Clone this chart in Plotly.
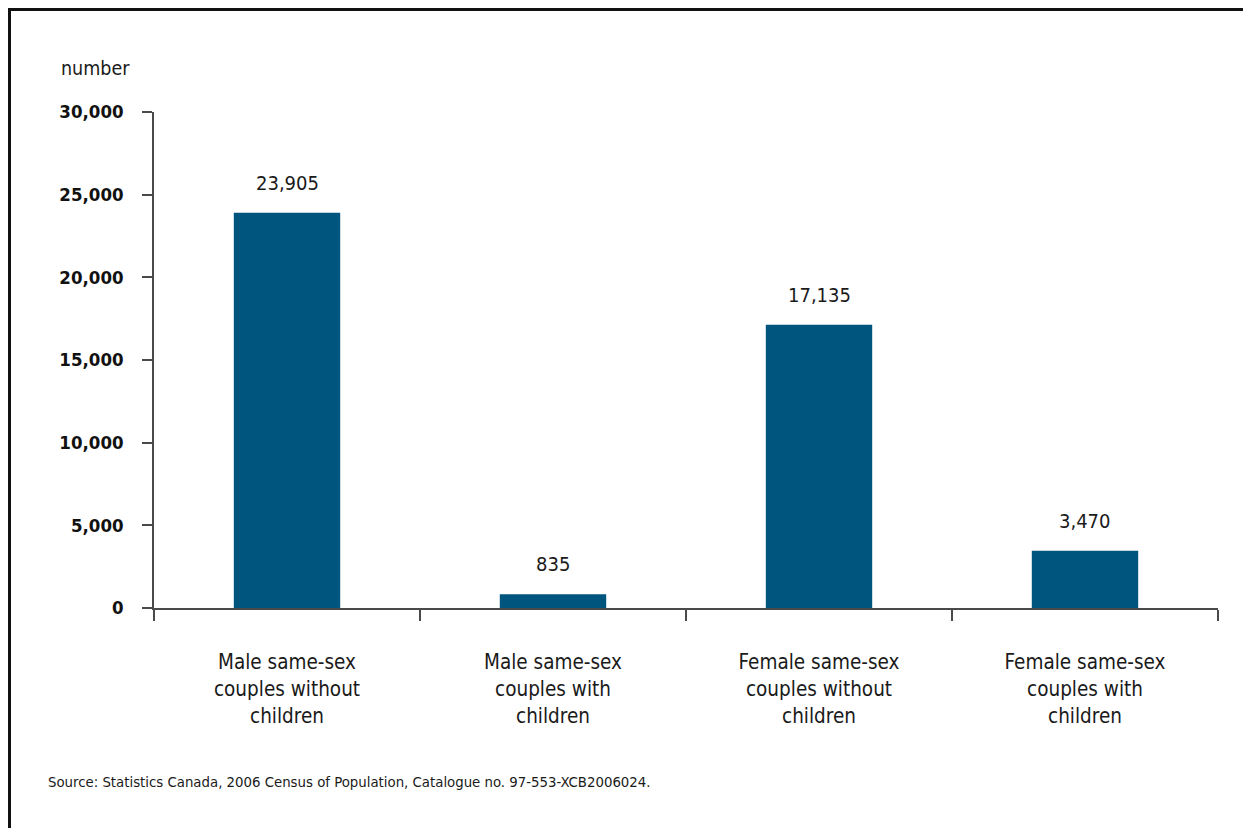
import plotly.graph_objects as go

categories = [
    "Male same-sex<br>couples without<br>children",
    "Male same-sex<br>couples with<br>children",
    "Female same-sex<br>couples without<br>children",
    "Female same-sex<br>couples with<br>children",
]
values = [23905, 835, 17135, 3470]
value_labels = ["23,905", "835", "17,135", "3,470"]
y_ticks = [0, 5000, 10000, 15000, 20000, 25000, 30000]
y_tick_labels = ["0", "5,000", "10,000", "15,000", "20,000", "25,000", "30,000"]

FONT = "DejaVu Sans Condensed, DejaVu Sans, sans-serif"
BAR = "#00557F"
AXIS = "#4a4a4a"
TXT = "#1a1a1a"

# page body margin offset (browser default); figure sized to avoid scrollbars
OFF = 8
W, H = 1251 - 2 * OFF, 836 - 2 * OFF
pw, ph = 1064, 496
L = 154 - OFF
T = 112 - OFF
R = W - L - pw
B = H - T - ph

def px(x):
    return (x - OFF - L) / pw

def py(y):
    return (T + ph - (y - OFF)) / ph

fig = go.Figure()
fig.add_trace(go.Bar(
    x=categories, y=values, marker=dict(color=BAR, line=dict(width=0)),
    width=0.4, hoverinfo="skip",
))

for c, v, t in zip(categories, values, value_labels):
    fig.add_annotation(x=c, y=v, text=t, showarrow=False, yanchor="bottom",
                       yshift=16, font=dict(family=FONT, size=20, color=TXT))

fig.add_annotation(xref="paper", yref="paper", x=px(59), y=py(68), text="number",
                   showarrow=False, xanchor="left", yanchor="middle",
                   font=dict(family=FONT, size=19.5, color=TXT))
fig.add_annotation(xref="paper", yref="paper", x=px(46), y=py(781),
                   text="Source: Statistics Canada, 2006 Census of Population, Catalogue no. 97-553-XCB2006024.",
                   showarrow=False, xanchor="left", yanchor="middle",
                   font=dict(family=FONT, size=14.8, color=TXT))

# frame: left and top edges (right/bottom lie outside the view)
fig.add_shape(type="line", xref="paper", yref="paper",
              x0=px(9.5), y0=py(900), x1=px(9.5), y1=py(8.5),
              line=dict(color="#111111", width=3), layer="above")
fig.add_shape(type="line", xref="paper", yref="paper",
              x0=px(8), y0=py(9.5), x1=px(1300), y1=py(9.5),
              line=dict(color="#111111", width=3), layer="above")

fig.update_layout(
    width=W, height=H,
    margin=dict(l=L, r=R, t=T, b=B, pad=0),
    paper_bgcolor="white", plot_bgcolor="white",
    showlegend=False,
    bargap=0.6,
    xaxis=dict(
        showline=True, linecolor=AXIS, linewidth=1.5,
        ticks="outside", tickson="boundaries", ticklen=11, tickcolor=AXIS, tickwidth=1.5,
        tickfont=dict(family=FONT, size=20.5, color=TXT),
        ticklabelstandoff=35,
        showgrid=False, zeroline=False, fixedrange=True,
    ),
    yaxis=dict(
        range=[0, 30000],
        tickvals=y_ticks, ticktext=y_tick_labels,
        showline=True, linecolor=AXIS, linewidth=1.5,
        ticks="outside", ticklen=10, tickcolor=AXIS, tickwidth=1.5,
        tickfont=dict(family=FONT, size=18.5, color="#111111", weight="bold"),
        ticklabelstandoff=15,
        showgrid=False, zeroline=False, fixedrange=True,
    ),
)

fig.write_html("out.html")
